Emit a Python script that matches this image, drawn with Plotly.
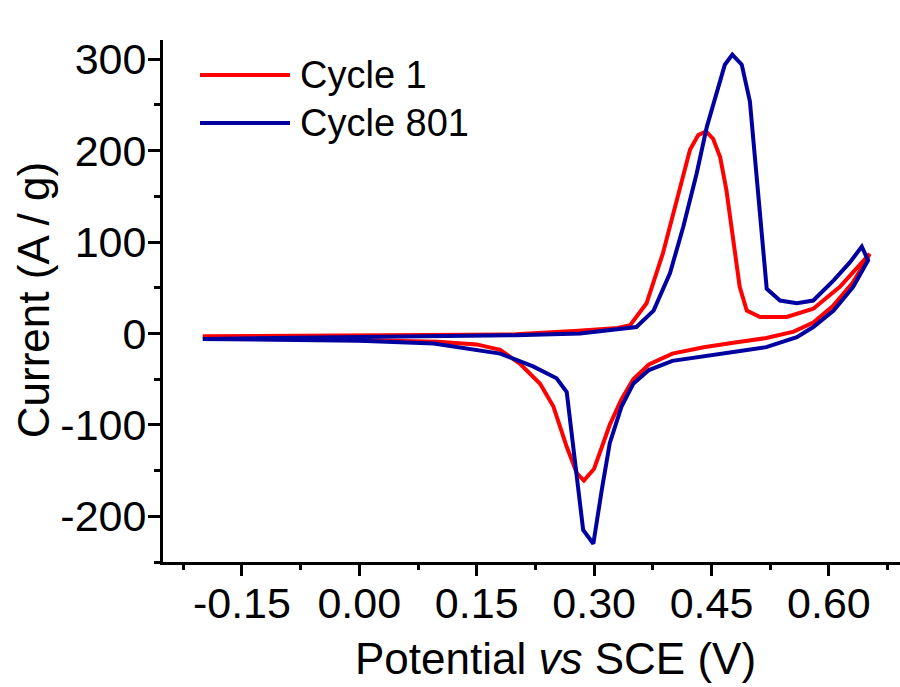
import plotly.graph_objects as go

# Cycle 1 (red): forward (anodic) scan then reverse (cathodic) scan
c1_x = [-0.20, -0.10, 0.00, 0.10, 0.20, 0.28, 0.33, 0.346, 0.367, 0.388, 0.41, 0.4225, 0.433, 0.443,
        0.452, 0.461, 0.469, 0.478, 0.486, 0.495, 0.512, 0.546, 0.58, 0.614, 0.648, 0.652,
        0.648, 0.63, 0.605, 0.58, 0.555, 0.52, 0.48, 0.44, 0.40, 0.37, 0.35, 0.335, 0.32, 0.31,
        0.30, 0.287, 0.278, 0.265, 0.248, 0.231, 0.205, 0.18, 0.15, 0.10, 0.00, -0.10, -0.20]
c1_y = [-3, -2.5, -2, -1.5, -1, 3, 6, 9, 33, 88, 160, 201, 217, 221,
        213, 193, 157, 102, 51, 25, 18, 18, 27, 51, 84, 87,
        80, 55, 30, 12, 2, -5, -10, -15, -22, -34, -50, -72, -100, -125,
        -148, -161, -153, -124, -80, -55, -33, -18, -12, -9, -7, -5, -4]

# Cycle 801 (blue)
c801_x = [-0.20, -0.10, 0.00, 0.10, 0.20, 0.282, 0.354, 0.376, 0.397, 0.414, 0.431, 0.444, 0.457,
          0.467, 0.4766, 0.4886, 0.499, 0.5034, 0.512, 0.5205, 0.5375, 0.559, 0.58, 0.606, 0.627,
          0.642, 0.650, 0.631, 0.606, 0.58, 0.559, 0.52, 0.48, 0.44, 0.40, 0.37, 0.35, 0.335, 0.32,
          0.31, 0.303, 0.299, 0.286, 0.275, 0.265, 0.252, 0.222, 0.18, 0.095, 0.00, -0.10, -0.20]
c801_y = [-6, -5, -4, -3, -2, 0, 7, 25, 66, 117, 175, 226, 266,
          294, 305, 294, 254, 212, 120, 49, 36, 33, 36, 58, 78,
          95, 80, 51, 25, 7, -4, -15, -20, -25, -30, -40, -55, -80, -120,
          -170, -210, -230, -215, -140, -64, -49, -36, -22, -11, -8, -7, -6]

series_names = ["Cycle 1", "Cycle 801"]
series_colors = ["#FF0000", "#0000A0"]

x_tick_vals = [-0.15, 0.00, 0.15, 0.30, 0.45, 0.60]
x_tick_text = ["-0.15", "0.00", "0.15", "0.30", "0.45", "0.60"]
y_tick_vals = [-200, -100, 0, 100, 200, 300]
y_tick_text = ["-200", "-100", "0", "100", "200", "300"]

FONT = "Liberation Sans, Arial, sans-serif"

fig = go.Figure()
for xs, ys, name, col in [(c1_x, c1_y, series_names[0], series_colors[0]),
                          (c801_x, c801_y, series_names[1], series_colors[1])]:
    fig.add_trace(go.Scatter(x=xs, y=ys, mode="lines", name=name,
                             line=dict(color=col, width=4), showlegend=False))

# manual legend (positions in paper coordinates of the plot area)
PW, PH, PL, PB = 737.0, 521.6, 163.0, 561.6
leg_py = [75, 123]
for i, (name, col) in enumerate(zip(series_names, series_colors)):
    yy = (PB - leg_py[i]) / PH
    fig.add_shape(type="line", xref="paper", yref="paper",
                  x0=(200 - PL) / PW, x1=(290 - PL) / PW, y0=yy, y1=yy,
                  line=dict(color=col, width=4))
    fig.add_annotation(xref="paper", yref="paper", x=(298 - PL) / PW, y=yy,
                       text=name, showarrow=False, xanchor="left", yanchor="middle",
                       font=dict(family=FONT, size=38, color="black"))

fig.add_annotation(xref="paper", yref="paper", x=(555 - PL) / PW, y=(PB - 658) / PH,
                   yanchor="middle", xanchor="center",
                   text="Potential <i>vs</i> SCE (V)", showarrow=False,
                   font=dict(family=FONT, size=44, color="black"))
fig.add_annotation(xref="paper", yref="paper", x=(33 - PL) / PW, y=(PB - 300) / PH,
                   xanchor="center", yanchor="middle",
                   text="Current (A / g)", showarrow=False, textangle=-90,
                   font=dict(family=FONT, size=44, color="black"))

axis_common = dict(showline=True, linecolor="black", linewidth=3, ticks="outside",
                   tickcolor="black", tickwidth=3, showgrid=False, zeroline=False,
                   automargin=False,
                   tickfont=dict(family=FONT, size=43, color="black"))

fig.update_xaxes(range=[-0.2508, 0.6908], tickvals=x_tick_vals, ticktext=x_tick_text,
                 ticklen=11, ticklabelstandoff=-10,
                 minor=dict(ticks="outside", ticklen=5, tickwidth=3, tickcolor="black",
                            dtick=0.075, tick0=-0.225, showgrid=False),
                 **axis_common)
fig.update_yaxes(range=[-250, 321], tickvals=y_tick_vals, ticktext=y_tick_text,
                 ticklen=12, ticklabelstandoff=-7,
                 minor=dict(ticks="outside", ticklen=6, tickwidth=3, tickcolor="black",
                            dtick=50, tick0=-250, showgrid=False),
                 **axis_common)

fig.update_layout(template="none", width=900, height=687,
                  margin=dict(l=163, r=0, t=40, b=125.4, pad=0),
                  plot_bgcolor="white", paper_bgcolor="white", showlegend=False)

fig.write_html("out.html", config={"displayModeBar": False},
               post_script="document.body.style.margin='0';document.body.style.padding='0';"
                           "document.body.style.overflow='hidden';")
